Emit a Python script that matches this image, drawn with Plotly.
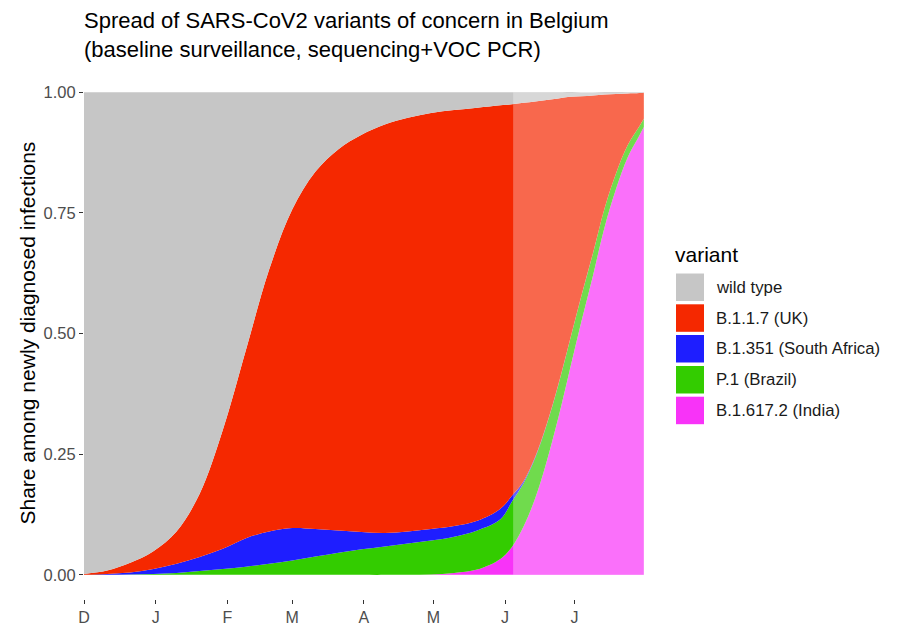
import plotly.graph_objects as go

# ---- data ----
dates = ["2020-12-01", "2020-12-11", "2020-12-21", "2020-12-31", "2021-01-10", "2021-01-20",
         "2021-01-30", "2021-02-09", "2021-02-19", "2021-03-01", "2021-03-11", "2021-03-21",
         "2021-03-31", "2021-04-10", "2021-04-20", "2021-04-30", "2021-05-10", "2021-05-20",
         "2021-05-30", "2021-06-04", "2021-06-09", "2021-06-14", "2021-06-19", "2021-06-24",
         "2021-06-29", "2021-07-04", "2021-07-09", "2021-07-14", "2021-07-19", "2021-07-24",
         "2021-07-29", "2021-07-31"]

india = [0, 0, 0, 0, 0, 0, 0, 0, 0, 0, 0, 0, 0, 0, 0.0005, 0.001, 0.004, 0.011,
         0.033, 0.058, 0.10, 0.158, 0.235, 0.325, 0.425, 0.525, 0.62, 0.72, 0.80, 0.865,
         0.91, 0.928]
brazil = [0, 0, 0.001, 0.002, 0.004, 0.008, 0.012, 0.017, 0.023, 0.030, 0.038, 0.046,
          0.053, 0.059, 0.0645, 0.07, 0.075, 0.081, 0.082, 0.094, 0.090, 0.084, 0.076, 0.068,
          0.06, 0.053, 0.046, 0.039, 0.032, 0.025, 0.019, 0.017]
south_africa = [0, 0.002, 0.004, 0.010, 0.019, 0.029, 0.042, 0.059, 0.067, 0.067, 0.057,
                0.046, 0.036, 0.028, 0.025, 0.024, 0.022, 0.020, 0.022, 0.012, 0.004, 0.002,
                0.001, 0.0008, 0.0006, 0.0005, 0.0004, 0.0003, 0.0003, 0.0002, 0.0002, 0.0002]
uk = [0.002, 0.007, 0.020, 0.037, 0.067, 0.131, 0.246, 0.390, 0.542, 0.660, 0.740, 0.790,
      0.823, 0.846, 0.857, 0.862, 0.862, 0.856, 0.836, 0.811, 0.784, 0.737, 0.672, 0.593,
      0.505, 0.413, 0.327, 0.236, 0.164, 0.107, 0.069, 0.054]
wild = [0.998, 0.991, 0.975, 0.951, 0.910, 0.832, 0.700, 0.534, 0.368, 0.243, 0.165, 0.118,
        0.088, 0.067, 0.053, 0.043, 0.037, 0.032, 0.027, 0.025, 0.022, 0.019, 0.016, 0.013,
        0.010, 0.008, 0.006, 0.005, 0.004, 0.003, 0.002, 0.001]

variant_names = ["wild type", "B.1.1.7 (UK)", "B.1.351 (South Africa)", "P.1 (Brazil)",
                 "B.1.617.2 (India)"]
variant_colors = ["#C6C6C6", "#F52800", "#1E1EFF", "#33CC00", "#F833F8"]

month_ticks = ["2020-12-01", "2021-01-01", "2021-02-01", "2021-03-01", "2021-04-01",
               "2021-05-01", "2021-06-01", "2021-07-01"]
month_labels = ["D", "J", "F", "M", "A", "M", "J", "J"]

forecast_start = "2021-06-04 12:00"
x_end = "2021-07-31 12:00"

title_text = "Spread of SARS-CoV2 variants of concern in Belgium<br>(baseline surveillance, sequencing+VOC PCR)"
ytitle_text = "Share among newly diagnosed infections"
legend_title = "variant"

# ---- figure ----
W, H = 897, 627
ML, MR, MT, MB = 84, 252, 92, 28
PW, PH = W - ML - MR, H - MT - MB
FONT = "Liberation Sans, Arial, Helvetica, sans-serif"


def px_x(px):
    return (px - ML) / PW


def px_y(py):
    return 1 - (py - MT) / PH


fig = go.Figure()
series = [india, brazil, south_africa, uk, wild]
names_bottom_up = variant_names[::-1]
colors_bottom_up = variant_colors[::-1]
for vals, nm, col in zip(series, names_bottom_up, colors_bottom_up):
    fig.add_trace(go.Scatter(
        x=dates, y=vals, name=nm, mode="lines", stackgroup="one",
        line=dict(width=0, shape="spline", smoothing=1.0, color=col),
        fillcolor=col, showlegend=False, hoverinfo="x+y+name"))

shapes = [dict(type="rect", xref="x", yref="y", x0=forecast_start, x1=x_end, y0=0, y1=1,
               fillcolor="white", opacity=0.3, line=dict(width=0), layer="above")]
annotations = []

# manual legend
sw_x0, sw_x1 = 676, 704
sw_tops = [273.5, 304.3, 335, 366, 396.7]
sw_h = 27.5
for top, nm, col in zip(sw_tops, variant_names, variant_colors):
    shapes.append(dict(type="rect", xref="paper", yref="paper",
                       x0=px_x(sw_x0), x1=px_x(sw_x1), y0=px_y(top + sw_h), y1=px_y(top),
                       fillcolor=col, line=dict(width=0)))
    annotations.append(dict(xref="paper", yref="paper", x=px_x(714), y=px_y(top + sw_h / 2),
                            text=nm, showarrow=False, xanchor="left", yanchor="middle",
                            font=dict(family=FONT, size=16.8, color="#1a1a1a")))
annotations.append(dict(xref="paper", yref="paper", x=px_x(673), y=px_y(254),
                        text=legend_title, showarrow=False, xanchor="left", yanchor="middle",
                        font=dict(family=FONT, size=21, color="#000000")))
annotations.append(dict(xref="paper", yref="y", x=px_x(28), y=0.5, text=ytitle_text,
                        textangle=-90, showarrow=False, xanchor="center", yanchor="middle",
                        font=dict(family=FONT, size=21, color="#000000")))

fig.update_layout(
    width=W, height=H,
    margin=dict(l=ML, r=MR, t=MT, b=MB, autoexpand=False),
    paper_bgcolor="white", plot_bgcolor="white",
    title=dict(text=title_text, x=ML / W, xanchor="left", xref="container",
               y=1 - 28 / H, yanchor="middle",
               font=dict(family=FONT, size=22, color="#000000")),
    showlegend=False,
    shapes=shapes, annotations=annotations,
    font=dict(family=FONT),
)
fig.update_xaxes(range=["2020-12-01", x_end], tickvals=month_ticks, ticktext=month_labels,
                 showgrid=False, zeroline=False, showline=False,
                 ticks="outside", ticklen=4, tickwidth=1, tickcolor="#333333",
                 tickfont=dict(family=FONT, size=16, color="#4D4D4D"))
fig.update_yaxes(range=[-0.05, 1.0005], tickvals=[0, 0.25, 0.5, 0.75, 1.0],
                 ticktext=["0.00", "0.25", "0.50", "0.75", "1.00"],
                 showgrid=False, zeroline=False, showline=False,
                 ticks="outside", ticklen=4, tickwidth=1, tickcolor="#333333",
                 tickfont=dict(family=FONT, size=16.5, color="#4D4D4D"))

fig.write_html("out.html", config={"displayModeBar": False},
               post_script="document.body.style.margin='0';")
